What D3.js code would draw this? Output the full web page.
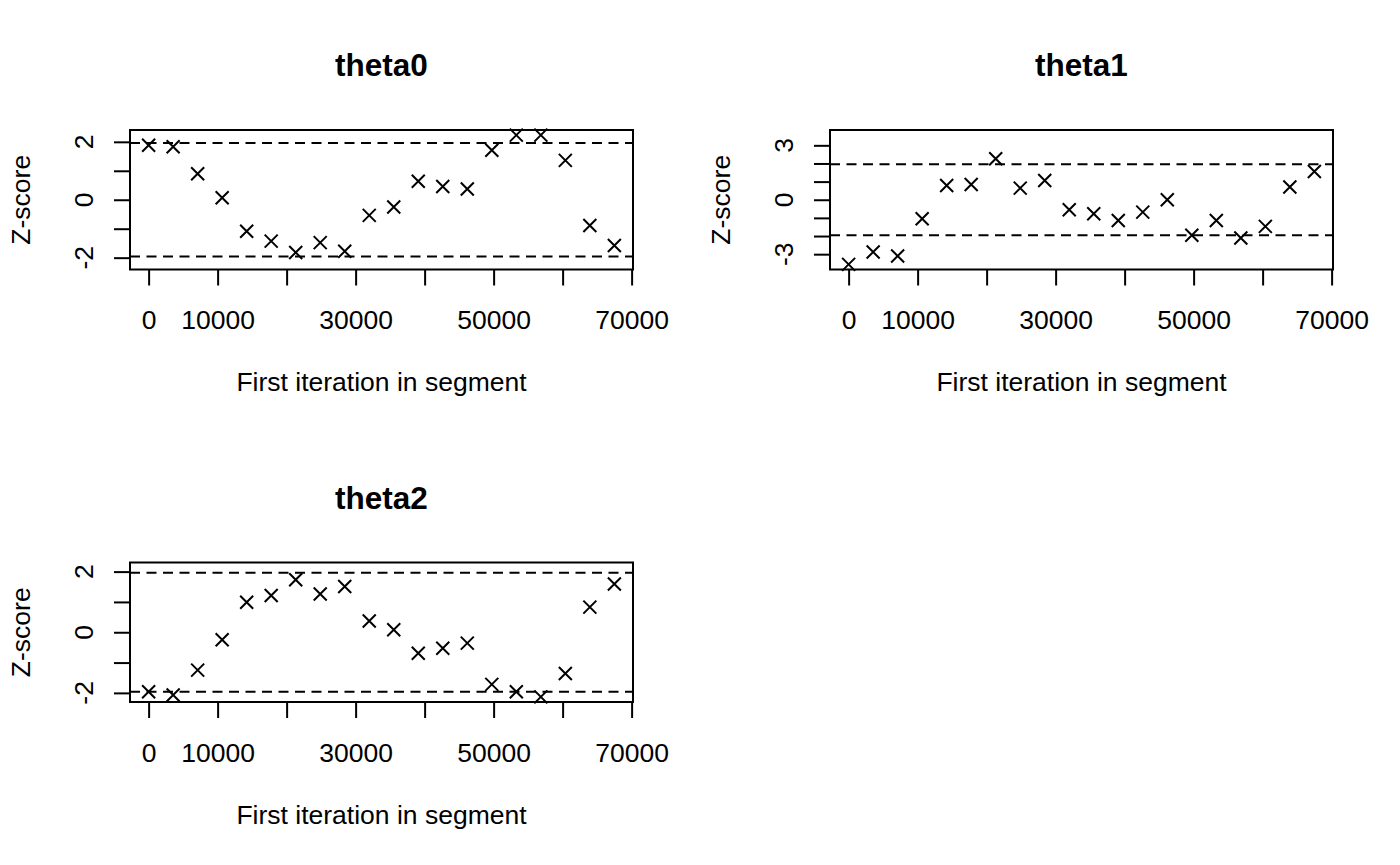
<!DOCTYPE html>
<html lang="en">
<head>
<meta charset="UTF-8">
<title>Geweke plot</title>
<script src="https://cdn.jsdelivr.net/npm/d3@7"></script>
<style>
  body { margin: 0; background: #fff; }
  svg text { font-family: "Liberation Sans", Arial, Helvetica, sans-serif; fill: #000; }
</style>
</head>
<body>
<div id="chart"></div>
<script>
// first iteration of each segment (shared by every panel)
const firstIter = [1, 3554, 7106, 10659, 14211, 17764, 21317, 24869, 28422, 31975,
                   35527, 39080, 42632, 46185, 49738, 53290, 56843, 60396, 63948, 67501];

// Z-scores
const theta0 = [1.88, 1.83, 0.90, 0.07, -1.09, -1.43, -1.82, -1.48, -1.78, -0.54,
                -0.25, 0.64, 0.46, 0.37, 1.71, 2.23, 2.23, 1.36, -0.89, -1.58];
const theta1 = [-3.56, -2.88, -3.10, -1.05, 0.79, 0.84, 2.26, 0.64, 1.06, -0.55,
                -0.77, -1.14, -0.68, 0.00, -1.96, -1.14, -2.11, -1.47, 0.70, 1.56];
const theta2 = [-1.96, -2.07, -1.25, -0.25, 0.99, 1.21, 1.73, 1.26, 1.51, 0.37,
                0.08, -0.69, -0.53, -0.36, -1.72, -1.96, -2.13, -1.36, 0.83, 1.59];

const panelNames = ['theta0', 'theta1', 'theta2'];
const panelSeries = [theta0, theta1, theta2];

// axis ticks; R drops the labels that would overlap
const xTicks = [0, 10000, 20000, 30000, 40000, 50000, 60000, 70000];
const xTickLabels = [0, 10000, 30000, 50000, 70000];
const yTicksByPanel = [[-2, -1, 0, 1, 2], [-3, -2, -1, 0, 1, 2, 3], [-2, -1, 0, 1, 2]];
const yTickLabelsByPanel = [[-2, 0, 2], [-3, 0, 3], [-2, 0, 2]];
const zBand = [-1.96, 1.96];

const W = 1400, H = 865;
const panelW = 700, panelH = 432.5;
const margin = {top: 130, right: 67, bottom: 163, left: 130};
const innerW = panelW - margin.left - margin.right,
      innerH = panelH - margin.top - margin.bottom;
const fs = 26.5, lw = 2;

const svg = d3.select('#chart').append('svg')
    .attr('width', W).attr('height', H);

svg.append('rect').attr('width', W).attr('height', H).attr('fill', '#fff');

const offsets = [[0, 0], [panelW, 0], [0, panelH]];

panelSeries.forEach((ys, i) => {
    const g = svg.append('g')
        .attr('transform', `translate(${offsets[i][0]},${offsets[i][1]})`);
    const plot = g.append('g')
        .attr('transform', `translate(${margin.left},${margin.top})`);

    // R style limits: 4% extension, y symmetric around 0
    const xr = d3.extent(firstIter), dx = (xr[1] - xr[0]) * 0.04;
    const x = d3.scaleLinear().domain([xr[0] - dx, xr[1] + dx]).range([0, innerW]);
    const ylim = d3.max([2].concat(ys.map(Math.abs)));
    const y = d3.scaleLinear().domain([-ylim * 1.08, ylim * 1.08]).range([innerH, 0]);

    // dashed +-1.96 lines
    plot.selectAll('line.band').data(zBand).join('line')
        .attr('class', 'band')
        .attr('x1', 0).attr('x2', innerW)
        .attr('y1', d => y(d)).attr('y2', d => y(d))
        .attr('stroke', '#000').attr('stroke-width', lw)
        .attr('stroke-dasharray', '10,6.5');

    // pch = 4 crosses
    const s = 6.5;
    const pts = plot.selectAll('g.pt').data(ys).join('g')
        .attr('class', 'pt')
        .attr('transform', (d, j) => `translate(${x(firstIter[j])},${y(d)})`);
    pts.append('path')
        .attr('d', `M${-s},${-s}L${s},${s}M${-s},${s}L${s},${-s}`)
        .attr('stroke', '#000').attr('stroke-width', lw).attr('fill', 'none');

    // x axis
    const xAxis = plot.append('g')
        .attr('transform', `translate(0,${innerH})`)
        .call(d3.axisBottom(x).tickValues(xTicks).tickSize(16).tickPadding(25)
            .tickFormat(d => xTickLabels.includes(d) ? d : ''));
    xAxis.select('.domain').remove();
    xAxis.selectAll('line').attr('stroke', '#000').attr('stroke-width', lw);
    xAxis.selectAll('text').attr('font-size', fs).attr('fill', '#000');

    // y axis
    const yAxis = plot.append('g')
        .call(d3.axisLeft(y).tickValues(yTicksByPanel[i]).tickSize(16).tickFormat(''));
    yAxis.select('.domain').remove();
    yAxis.selectAll('line').attr('stroke', '#000').attr('stroke-width', lw);
    plot.selectAll('text.ylab').data(yTickLabelsByPanel[i]).join('text')
        .attr('class', 'ylab')
        .attr('transform', d => `translate(-37,${y(d)}) rotate(-90)`)
        .attr('text-anchor', 'middle')
        .attr('font-size', fs)
        .text(d => d);

    // box
    plot.append('rect')
        .attr('width', innerW).attr('height', innerH)
        .attr('fill', 'none').attr('stroke', '#000').attr('stroke-width', lw);

    // titles
    g.append('text')
        .attr('x', margin.left + innerW / 2).attr('y', 76)
        .attr('text-anchor', 'middle')
        .attr('font-size', 31.5).attr('font-weight', 'bold')
        .text(panelNames[i]);
    g.append('text')
        .attr('x', margin.left + innerW / 2).attr('y', margin.top + innerH + 121.5)
        .attr('text-anchor', 'middle')
        .attr('font-size', fs)
        .text('First iteration in segment');
    g.append('text')
        .attr('transform', `translate(30,${margin.top + innerH / 2}) rotate(-90)`)
        .attr('text-anchor', 'middle')
        .attr('font-size', fs)
        .text('Z-score');
});
</script>
</body>
</html>
